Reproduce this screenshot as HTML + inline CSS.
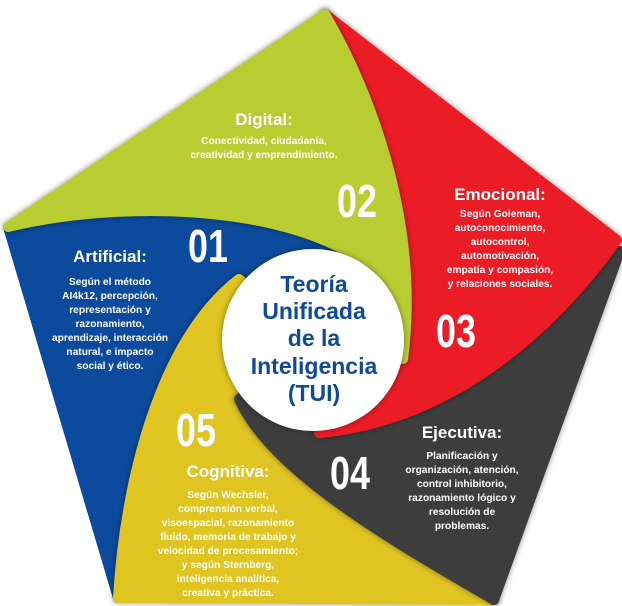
<!DOCTYPE html>
<html><head><meta charset="utf-8"><style>
html,body{margin:0;padding:0;background:#fff;width:622px;height:606px;overflow:hidden}
svg{display:block}
text{font-family:"Liberation Sans",sans-serif;font-weight:bold;fill:#fff;text-anchor:middle}
.s{font-size:10.2px}
.h{font-size:17px}
.n{font-size:46px}
.c{fill:#0d4a9c;font-size:23px}
</style></head><body>
<svg width="622" height="606" viewBox="0 0 622 606">
<defs>
<filter id="sh" x="-10%" y="-10%" width="120%" height="120%"><feDropShadow dx="0" dy="0" stdDeviation="3" flood-color="#000" flood-opacity="0.45"/></filter>
</defs>
<g stroke-linejoin="round" stroke-width="10">
<path d="M118,598 L8,227 C120,200 280,205 359,259 L312,340 L239,279 C160,340 125,480 118,598 Z" fill="#0b4a9c" stroke="#0b4a9c"/>
<path d="M494,600 L118,598 C125,480 160,340 239,279 L312,340 L239,399 C270,470 390,540 494,600 Z" fill="#dfc421" stroke="#dfc421" filter="url(#sh)"/>
<path d="M620,251 L494,600 C390,540 270,470 239,399 L312,340 L319,433 C460,420 560,320 620,251 Z" fill="#3d3d3d" stroke="#3d3d3d" filter="url(#sh)"/>
<path d="M325,14 L617,240 C560,320 460,420 319,433 L312,340 L403,359 C420,230 375,100 325,14 Z" fill="#eb1c26" stroke="#eb1c26" filter="url(#sh)"/>
<path d="M8,227 L325,14 C375,100 420,230 403,359 L312,340 L359,259 C280,205 120,200 8,227 Z" fill="#b8cd31" stroke="#b8cd31" filter="url(#sh)"/>
</g>
<circle cx="313" cy="340" r="91" fill="#fff" filter="url(#sh)"/>

<text class="c" x="314" y="292">Teoría</text>
<text class="c" x="314" y="319">Unificada</text>
<text class="c" x="314" y="346">de la</text>
<text class="c" x="314" y="374">Inteligencia</text>
<text class="c" x="314" y="401">(TUI)</text>

<text class="h" x="264" y="125">Digital:</text>
<text class="s" x="264" y="144">Conectividad, ciudadanía,</text>
<text class="s" x="264" y="158">creatividad y emprendimiento.</text>
<text class="n" transform="translate(357,217) scale(0.78,1)">02</text>

<text class="h" x="500" y="200">Emocional:</text>
<text class="s" x="500" y="217">Según Goleman,</text>
<text class="s" x="500" y="231">autoconocimiento,</text>
<text class="s" x="500" y="245">autocontrol,</text>
<text class="s" x="500" y="259">automotivación,</text>
<text class="s" x="500" y="273">empatía y compasión,</text>
<text class="s" x="500" y="287">y relaciones sociales.</text>
<text class="n" transform="translate(456,347) scale(0.78,1)">03</text>

<text class="h" x="462" y="438">Ejecutiva:</text>
<text class="s" x="462" y="459">Planificación y</text>
<text class="s" x="462" y="473">organización, atención,</text>
<text class="s" x="462" y="487">control inhibitorio,</text>
<text class="s" x="462" y="501">razonamiento lógico y</text>
<text class="s" x="462" y="515">resolución de</text>
<text class="s" x="462" y="529">problemas.</text>
<text class="n" transform="translate(350,489) scale(0.78,1)">04</text>

<text class="h" x="228" y="477">Cognitiva:</text>
<text class="s" x="228" y="498">Según Wechsler,</text>
<text class="s" x="228" y="512">comprensión verbal,</text>
<text class="s" x="228" y="526">visoespacial, razonamiento</text>
<text class="s" x="228" y="540">fluido, memoria de trabajo y</text>
<text class="s" x="228" y="554">velocidad de procesamiento;</text>
<text class="s" x="228" y="568">y según Sternberg,</text>
<text class="s" x="228" y="582">inteligencia analítica,</text>
<text class="s" x="228" y="596">creativa y práctica.</text>
<text class="n" transform="translate(196,446) scale(0.78,1)">05</text>

<text class="h" x="110" y="262">Artificial:</text>
<text class="s" x="110" y="285">Según el método</text>
<text class="s" x="110" y="299">AI4k12, percepción,</text>
<text class="s" x="110" y="313">representación y</text>
<text class="s" x="110" y="327">razonamiento,</text>
<text class="s" x="110" y="341">aprendizaje, interacción</text>
<text class="s" x="110" y="355">natural, e impacto</text>
<text class="s" x="110" y="369">social y ético.</text>
<text class="n" transform="translate(208,262) scale(0.78,1)">01</text>
</svg>
</body></html>
